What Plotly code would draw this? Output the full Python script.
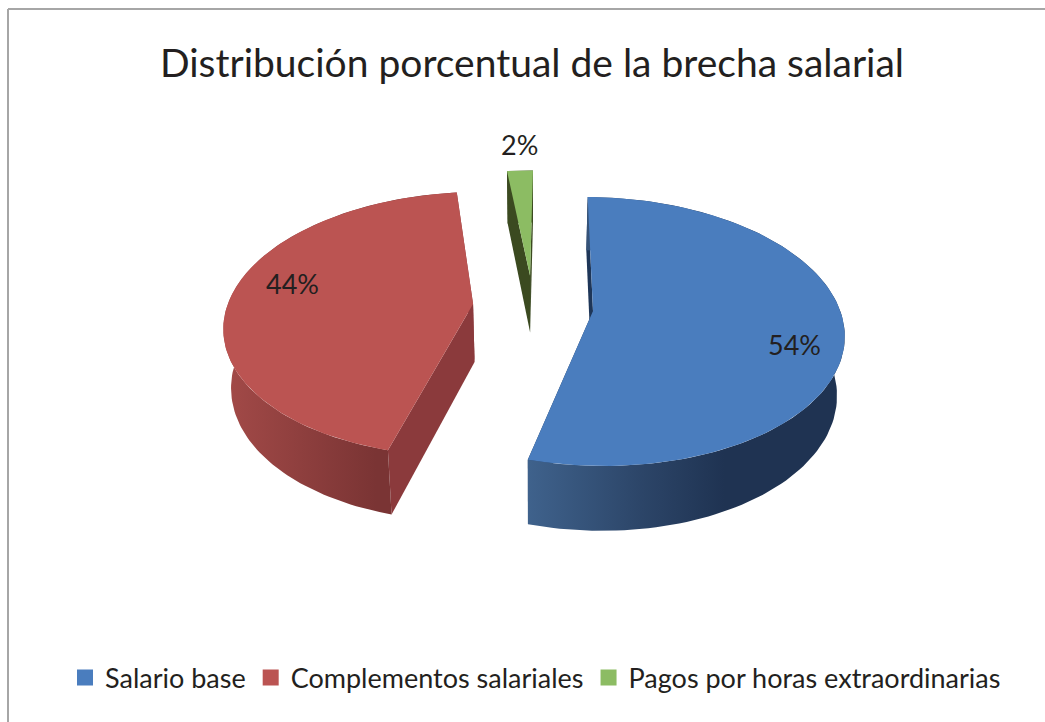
import math
import numpy as np
import plotly.graph_objects as go

# --- data ---
categories = ["Salario base", "Complementos salariales", "Pagos por horas extraordinarias"]
values = [54, 44, 2]
percent_labels = ["54%", "44%", "2%"]

# --- styles ---
top_colors = ["#4a7dbe", "#bb5452", "#8cbc63"]
cut_colors = ["#1e3658", "#8b3a3c", "#3b4a20"]
wall_scales = [
    [[0, "#3f628c"], [0.36, "#2c4568"], [0.62, "#1f3352"], [1, "#1f3352"]],
    [[0, "#a34a48"], [0.65, "#7a3434"], [1, "#7a3434"]],
    [[0, "#3b4a20"], [1, "#3b4a20"]],
]
title_text = "Distribución porcentual de la brecha salarial"
label_xy = [(794, 344), (292, 283), (519, 144)]
FONT = "Lato, sans-serif"
TEXT = "#231f20"

# --- 3D perspective pie projection (pixel space of the hidden axes) ---
SX, SY = 533.0, 306.5      # screen position of the pie axis
R, RS = 246.0, 130.0       # horizontal / vertical disc radius
K = 0.152                  # perspective strength
EXPLODE = 0.245            # pull of each slice
START = 0.7                # first slice angle, degrees clockwise from the back
M, D0 = 0.975, 58.0        # scale and drop of the lower disc


def project(X, V):
    den = 1 - K * V
    return SX + R * X / den, SY + RS * V / den


def lower(x, y, V):
    return SX + M * (x - SX), SY + M * (y - SY) + D0 / (1 - K * V)


def slice_geometry(a0, a1):
    mid = math.radians((a0 + a1) / 2)
    ox, ov = EXPLODE * math.sin(mid), -EXPLODE * math.cos(mid)
    th = np.radians(np.linspace(a0, a1, 120))
    Xs, Vs = ox + np.sin(th), ov - np.cos(th)
    x, y = project(Xs, Vs)
    xb, yb = lower(x, y, Vs)
    ax, ay = project(ox, ov)
    bx, by = lower(ax, ay, ov)
    return dict(x=x, y=y, xb=xb, yb=yb, ax=ax, ay=ay, bx=bx, by=by)


fig = go.Figure()
total = sum(values)
angle = START
geoms = []
for v in values:
    span = 360 * v / total
    geoms.append(slice_geometry(angle, angle + span))
    angle += span


def poly(xs, ys, color=None, gradient=None):
    kw = dict(fillgradient=gradient) if gradient else dict(fillcolor=color)
    fig.add_trace(go.Scatter(x=list(xs), y=list(ys), mode="lines", fill="toself",
                             line=dict(width=0, color=color or "rgba(0,0,0,0)"),
                             hoverinfo="skip", showlegend=False, **kw))


# paint order: back slices first
for i in [2, 1, 0]:
    g = geoms[i]
    # end cut, then start cut
    poly([g["ax"], g["x"][-1], g["xb"][-1], g["bx"]], [g["ay"], g["y"][-1], g["yb"][-1], g["by"]], cut_colors[i])
    poly([g["ax"], g["x"][0], g["xb"][0], g["bx"]], [g["ay"], g["y"][0], g["yb"][0], g["by"]], cut_colors[i])
    # outer wall
    poly(list(g["x"]) + list(g["xb"][::-1]), list(g["y"]) + list(g["yb"][::-1]),
         gradient=dict(type="horizontal", colorscale=wall_scales[i]))
    # top face
    poly([g["ax"]] + list(g["x"]), [g["ay"]] + list(g["y"]), top_colors[i])

# legend entries
for name, c in zip(categories, top_colors):
    fig.add_trace(go.Scatter(x=[None], y=[None], mode="markers", name=name,
                             marker=dict(symbol="square", size=16, color=c)))

# percentage labels
for txt, (lx, ly) in zip(percent_labels, label_xy):
    fig.add_annotation(x=lx, y=ly, text=txt, showarrow=False,
                       font=dict(family=FONT, size=27, color=TEXT))

fig.update_layout(
    width=1045, height=722,
    margin=dict(l=0, r=0, t=0, b=0),
    paper_bgcolor="white", plot_bgcolor="white",
    xaxis=dict(visible=False, range=[0, 1045], fixedrange=True),
    yaxis=dict(visible=False, range=[722, 0], fixedrange=True),
    title=dict(text=title_text, x=532 / 1045, xanchor="center", y=1 - 63 / 722, yanchor="middle",
               font=dict(family=FONT, size=39, color=TEXT)),
    legend=dict(orientation="h", x=65 / 1045, xanchor="left", y=1 - 678 / 722, yanchor="middle",
                font=dict(family=FONT, size=27, color=TEXT), itemclick=False, itemdoubleclick=False,
                bgcolor="rgba(0,0,0,0)"),
    shapes=[
        dict(type="line", xref="x", yref="y", x0=8, x1=1045, y0=9, y1=9, line=dict(color="#a6a6a6", width=2)),
        dict(type="line", xref="x", yref="y", x0=8, x1=8, y0=9, y1=722, line=dict(color="#a6a6a6", width=2)),
    ],
)

fig.write_html("out.html", config=dict(displayModeBar=False), post_script="document.body.style.margin='0';")
